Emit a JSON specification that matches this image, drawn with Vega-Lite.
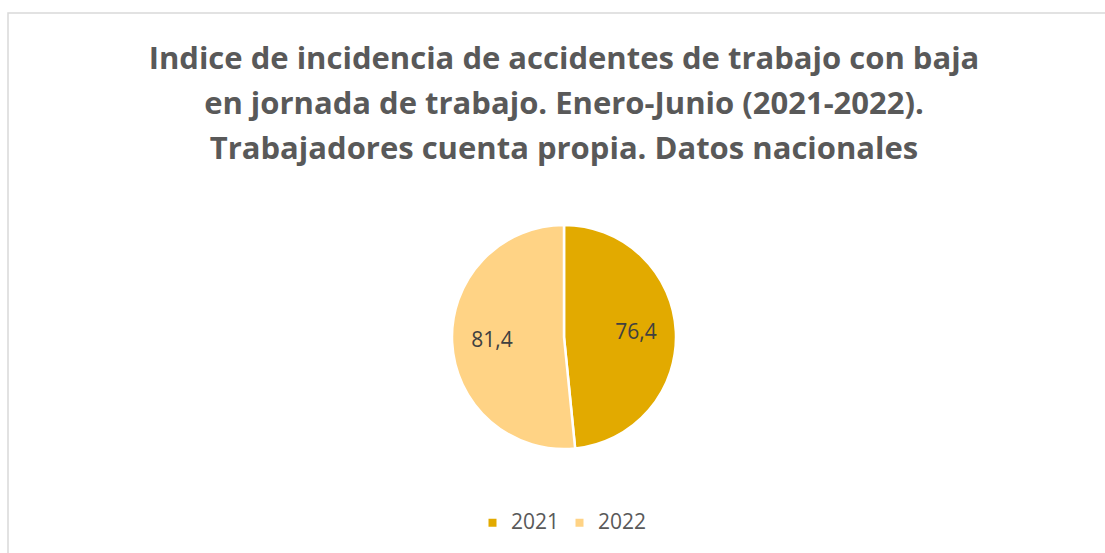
{
  "$schema": "https://vega.github.io/schema/vega-lite/v6.json",
  "width": 1112,
  "height": 648,
  "padding": {"left": 8, "top": 13, "right": 0, "bottom": 0},
  "autosize": {"type": "pad"},
  "background": "white",
  "view": {"stroke": "#D9D9D9", "strokeWidth": 1.5, "fill": "white"},
  "config": {
    "view": {"stroke": "#D9D9D9", "strokeWidth": 1.5},
    "font": "Open Sans"
  },
  "title": {
    "text": ["Indice de incidencia de accidentes de trabajo con baja", "en jornada de trabajo. Enero-Junio (2021-2022).", "Trabajadores cuenta propia. Datos nacionales"],
    "font": "Open Sans",
    "fontSize": 31,
    "fontWeight": "bold",
    "color": "#595959",
    "lineHeight": 45,
    "anchor": "middle",
    "frame": "group",
    "baseline": "top",
    "offset": -153,
    "dx": 0
  },
  "data": {
    "values": [
      {"year": "2021", "value": 76.4, "label": "76,4"},
      {"year": "2022", "value": 81.4, "label": "81,4"}
    ]
  },
  "encoding": {
    "theta": {"field": "value", "type": "quantitative", "stack": true},
    "order": {"field": "year", "type": "ordinal"}
  },
  "layer": [
    {
      "mark": {"type": "arc", "radius": 112, "stroke": "white", "strokeWidth": 2.5},
      "encoding": {
        "color": {
          "field": "year",
          "type": "nominal",
          "scale": {"domain": ["2021", "2022"], "range": ["#E2AA00", "#FFD385"]},
          "legend": {
            "orient": "none",
            "legendX": 474,
            "legendY": 499,
            "direction": "horizontal",
            "title": null,
            "symbolType": "square",
            "symbolSize": 64,
            "symbolStrokeWidth": 0,
            "labelFontSize": 21,
            "labelColor": "#595959",
            "labelFont": "Open Sans",
            "columnPadding": 9,
            "labelOffset": 8
          }
        }
      }
    },
    {
      "mark": {"type": "text", "radius": 72, "fontSize": 21, "font": "Open Sans", "color": "#404040"},
      "encoding": {
        "text": {"field": "label", "type": "nominal"},
        "detail": {"field": "year", "type": "nominal"}
      }
    }
  ]
}
